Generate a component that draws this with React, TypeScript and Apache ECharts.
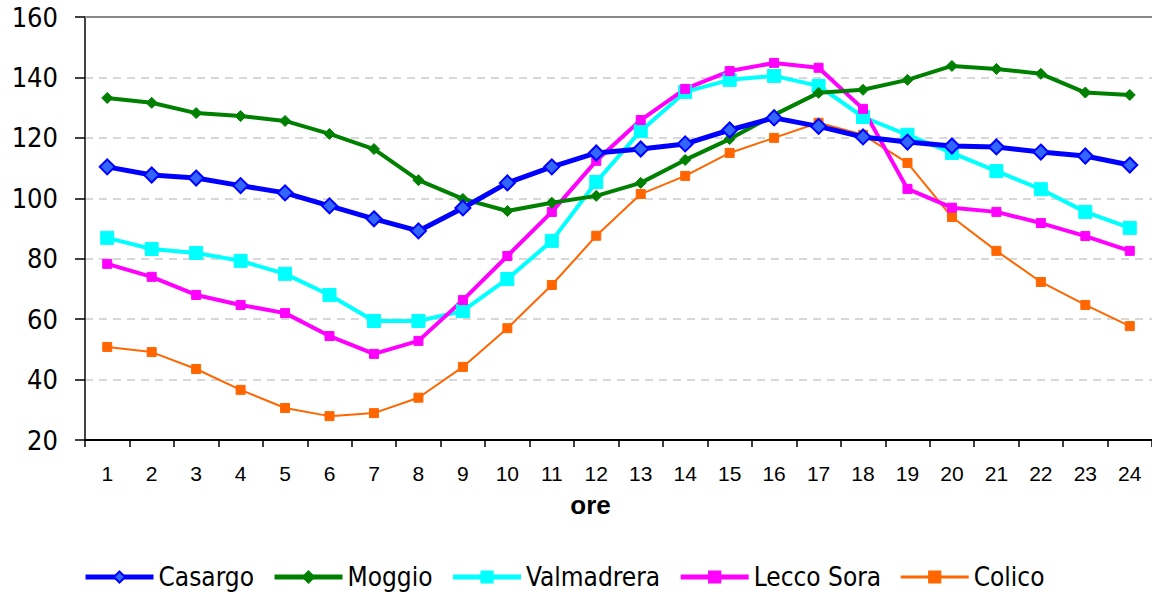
import React, { useEffect, useRef } from "react";
import * as echarts from "echarts";

const hours = ["1","2","3","4","5","6","7","8","9","10","11","12","13","14","15","16","17","18","19","20","21","22","23","24"];
const casargo = [110.4,107.7,106.7,104.2,101.8,97.5,93.2,89.2,96.8,105.1,110.4,115,116.3,118,122.6,126.6,123.8,120.3,118.6,117.3,117,115.3,114,111];
const moggio = [133.2,131.6,128.2,127.2,125.6,121.3,116.3,106,99.8,95.8,98.5,100.8,105.1,112.7,119.6,127.6,134.9,135.9,139.2,143.8,142.8,141.2,135,134.2];
const valmadrera = [86.9,83.2,81.9,79.3,75,68,59.4,59.4,62.7,73.3,85.9,105.4,122.3,135.2,139.2,140.5,137.2,126.9,121,115,109,103,95.5,90.2];
const leccoSora = [78.3,74,68,64.7,62,54.4,48.5,52.8,66.3,80.9,95.5,112.4,125.9,136.2,142.1,144.8,143.2,129.6,103.1,96.9,95.5,91.8,87.5,82.6];
const colico = [50.8,49.1,43.5,36.6,30.6,27.9,28.9,34,44.2,57,71.3,87.6,101.4,107.4,115,120,125,121,111.7,93.8,82.6,72.3,64.7,57.7];

const FONT = "'DejaVu Sans Condensed', 'DejaVu Sans', sans-serif";
const NARROW = "'Liberation Sans Narrow', 'Liberation Sans', sans-serif";

export default function App() {
  const ref = useRef<HTMLDivElement>(null);
  useEffect(() => {
    document.body.style.margin = "0";
    const chart = echarts.init(ref.current!, null, { renderer: "svg" });
    chart.setOption({
      animation: false,
      backgroundColor: "#ffffff",
      grid: { left: 85, right: 0, top: 17, bottom: 154, containLabel: false },
      legend: {
        left: 78,
        top: 559,
        itemWidth: 68,
        itemHeight: 14,
        itemGap: 18,
        textStyle: { fontFamily: FONT, fontSize: 26, color: "#000" },
        data: [
          { name: "Casargo", lineStyle: { width: 5 } },
          { name: "Moggio", lineStyle: { width: 5 } },
          { name: "Valmadrera", lineStyle: { width: 5 } },
          { name: "Lecco Sora", lineStyle: { width: 5 } },
          { name: "Colico", lineStyle: { width: 3 } },
        ],
      },
      xAxis: [
        {
          type: "category",
          data: hours,
          boundaryGap: true,
          name: "ore",
          nameLocation: "middle",
          nameGap: 52,
          nameTextStyle: { fontFamily: "'Liberation Sans', sans-serif", fontWeight: "bold", fontSize: 26, color: "#000", padding: [0, 56, 0, 0] },
          axisLine: { lineStyle: { color: "#000", width: 2 } },
          axisTick: { show: true, length: 7, lineStyle: { color: "#000", width: 1.5 } },
          axisLabel: { fontFamily: NARROW, fontSize: 21, color: "#000", margin: 23 },
          splitLine: { show: false },
        },
        {
          type: "category",
          data: hours,
          position: "top",
          axisLine: { lineStyle: { color: "#888", width: 2 } },
          axisTick: { show: false },
          axisLabel: { show: false },
          splitLine: { show: false },
        },
      ],
      yAxis: {
        type: "value",
        min: 20,
        max: 160,
        interval: 20,
        axisLine: { show: true, lineStyle: { color: "#444", width: 2 } },
        axisTick: { show: true, length: 10, lineStyle: { color: "#000", width: 1.5 } },
        axisLabel: { fontFamily: FONT, fontSize: 27, color: "#000", margin: 27 },
        splitLine: { show: true, lineStyle: { color: "#cccccc", width: 1.5, type: [8, 6] } },
      },
      series: [
        {
          name: "Casargo", type: "line", data: casargo, symbol: "diamond", symbolSize: 15, z: 5,
          lineStyle: { color: "#0000FF", width: 5 },
          itemStyle: { color: "#3366FF", borderColor: "#0000FF", borderWidth: 2 },
        },
        {
          name: "Moggio", type: "line", data: moggio, symbol: "diamond", symbolSize: 11, z: 4,
          lineStyle: { color: "#008000", width: 4 },
          itemStyle: { color: "#008000", borderColor: "#008000", borderWidth: 1 },
        },
        {
          name: "Valmadrera", type: "line", data: valmadrera, symbol: "rect", symbolSize: 13, z: 3,
          lineStyle: { color: "#00FFFF", width: 4 },
          itemStyle: { color: "#00FFFF", borderColor: "#00FFFF", borderWidth: 1 },
        },
        {
          name: "Lecco Sora", type: "line", data: leccoSora, symbol: "rect", symbolSize: 9, z: 3,
          lineStyle: { color: "#FF00FF", width: 4 },
          itemStyle: { color: "#FF00FF", borderColor: "#FF00FF", borderWidth: 1 },
        },
        {
          name: "Colico", type: "line", data: colico, symbol: "rect", symbolSize: 9, z: 2,
          lineStyle: { color: "#FF6600", width: 2 },
          itemStyle: { color: "#FF6600", borderColor: "#FF6600", borderWidth: 1 },
        },
      ],
    });
    return () => chart.dispose();
  }, []);
  return <div ref={ref} style={{ width: 1152, height: 594 }} />;
}
